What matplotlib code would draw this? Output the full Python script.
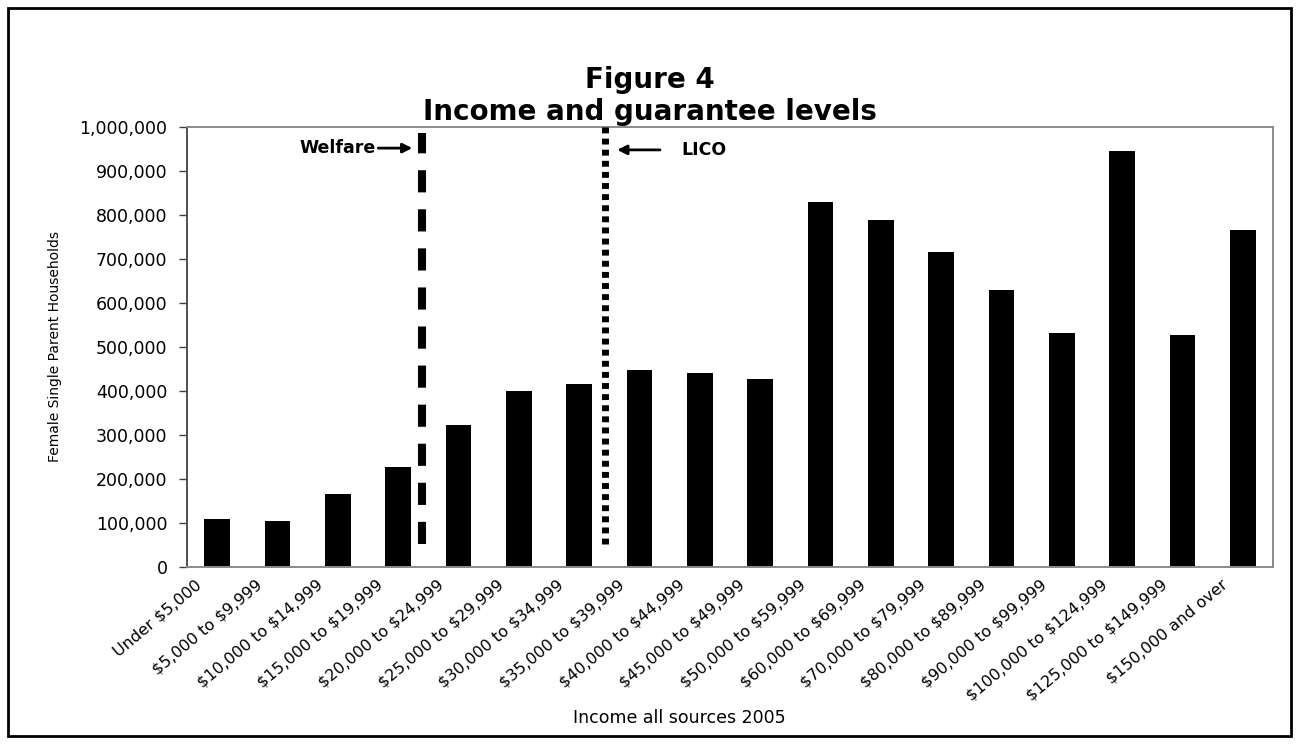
import matplotlib
matplotlib.use("Agg")
import matplotlib.pyplot as plt
from matplotlib.transforms import ScaledTranslation
from matplotlib.patches import Rectangle
from matplotlib.ticker import FuncFormatter

# ---------------- data ----------------
categories = [
    "Under $5,000", "$5,000 to $9,999", "$10,000 to $14,999", "$15,000 to $19,999",
    "$20,000 to $24,999", "$25,000 to $29,999", "$30,000 to $34,999", "$35,000 to $39,999",
    "$40,000 to $44,999", "$45,000 to $49,999", "$50,000 to $59,999", "$60,000 to $69,999",
    "$70,000 to $79,999", "$80,000 to $89,999", "$90,000 to $99,999", "$100,000 to $124,999",
    "$125,000 to $149,999", "$150,000 and over",
]
households = [110000, 104000, 166000, 228000, 322000, 400000, 416000, 448000, 441000,
              427000, 830000, 788000, 716000, 629000, 532000, 945000, 527000, 767000]

welfare_pos = 3.40   # position of welfare guarantee on the category axis
lico_pos = 6.43      # position of LICO on the category axis
welfare_range = [52000, 986000]
lico_range = [52000, 1000000]
arrow_y_welfare = 952000
arrow_y_lico = 948000

title_lines = ["Figure 4", "Income and guarantee levels"]
ylabel = "Female Single Parent Households"
xlabel = "Income all sources 2005"

# ---------------- figure ----------------
W, H = 1299, 744
FONT = "DejaVu Sans"
plt.rcParams["font.family"] = [FONT]
plt.rcParams["text.parse_math"] = False

fig = plt.figure(figsize=(W / 100, H / 100), dpi=100)
fig.patch.set_facecolor("white")
ax = fig.add_axes([187 / W, 1 - 567 / H, 1086 / W, 440 / H])

xpos = list(range(len(categories)))
ax.bar(xpos, households, width=0.43, color="black", zorder=2)

ax.set_xlim(-0.5, len(categories) - 0.5)
ax.set_ylim(0, 1_000_000)
ax.set_yticks(range(0, 1_000_001, 100_000))
ax.yaxis.set_major_formatter(FuncFormatter(lambda v, p: f"{int(v):,}"))
ax.tick_params(axis="y", length=6, width=1, color="#404040", pad=8, labelsize=12.5,
               labelcolor="black")
ax.tick_params(axis="x", length=0, labelbottom=False)
for s in ["top", "right", "bottom"]:
    ax.spines[s].set_color("#8a8a8a")
    ax.spines[s].set_linewidth(1.4)
ax.spines["left"].set_color("#505050")
ax.spines["left"].set_linewidth(1.4)

# category labels (rotated)
off = ScaledTranslation(-22 / 100, -10 / 100, fig.dpi_scale_trans)
for i, lab in enumerate(categories):
    ax.text(i, 0, lab, transform=ax.get_xaxis_transform() + off, rotation=40,
            rotation_mode="anchor", ha="right", va="top", fontsize=11.5)

# guarantee level lines
ax.plot([welfare_pos, welfare_pos], welfare_range, color="black", lw=5.8,
        linestyle=(0, (2.75, 2.1)), dash_capstyle="butt", zorder=3)
ax.plot([lico_pos, lico_pos], lico_range, color="black", lw=5.0,
        linestyle=(0, (0.85, 0.75)), dash_capstyle="butt", zorder=3, clip_on=False)

# annotations
ax.annotate("", xy=(welfare_pos - 0.166, arrow_y_welfare),
            xytext=(welfare_pos - 0.73, arrow_y_welfare),
            arrowprops=dict(arrowstyle="-|>", color="black", lw=2, mutation_scale=14,
                            shrinkA=0, shrinkB=0))
ax.text(welfare_pos - 0.77, arrow_y_welfare, "Welfare", ha="right", va="center",
        fontsize=12.5, fontweight="bold")
ax.annotate("", xy=(lico_pos + 0.2, arrow_y_lico),
            xytext=(lico_pos + 0.91, arrow_y_lico),
            arrowprops=dict(arrowstyle="-|>", color="black", lw=2, mutation_scale=14,
                            shrinkA=0, shrinkB=0))
ax.text(lico_pos + 1.26, arrow_y_lico, "LICO", ha="left", va="center",
        fontsize=12.5, fontweight="bold")

# titles and axis labels
fig.text(650 / W, 1 - 88 / H, title_lines[0], ha="center", va="baseline",
         fontsize=20, fontweight="bold")
fig.text(650 / W, 1 - 120 / H, title_lines[1], ha="center", va="baseline",
         fontsize=20, fontweight="bold")
fig.text(55 / W, 1 - 347 / H, ylabel, rotation=90, ha="center", va="center", fontsize=10)
fig.text(679 / W, 1 - 718 / H, xlabel, ha="center", va="center", fontsize=12.5)

# outer border
fig.add_artist(Rectangle((8 / W, 8 / H), (1291 - 8) / W, (736 - 8) / H,
                         transform=fig.transFigure, fill=False, lw=2, edgecolor="black"))

fig.savefig("out.png", dpi=100, facecolor="white")
